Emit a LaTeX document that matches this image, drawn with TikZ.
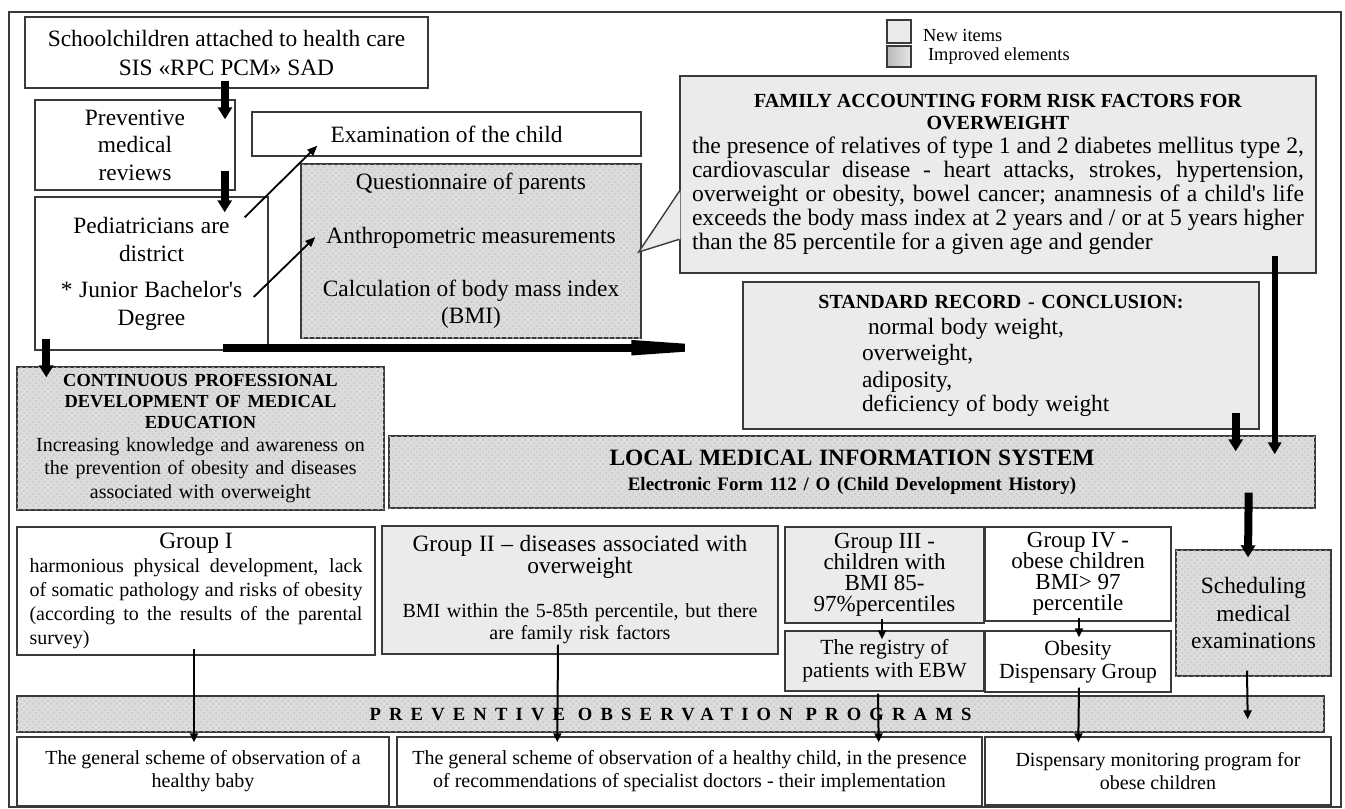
\documentclass[tikz,border=0pt]{standalone}
\usepackage{fontspec}
\setmainfont{Liberation Serif}
\usetikzlibrary{arrows.meta}
\usetikzlibrary{calc}
\usetikzlibrary{patterns}
\definecolor{boxline}{HTML}{3A3A3A}
\definecolor{newfill}{HTML}{EBEBEB}
\definecolor{impfill}{HTML}{DCDCDC}
\newcommand\fsz[2]{\fontsize{#1}{#2}\selectfont}
\tikzset{every node/.style={inner sep=0pt},
plainbox/.style={ % white boxes
draw=boxline, line width=0.7pt, fill=white},
newbox/.style={plainbox, fill=newfill}, % new items
impbox/.style={plainbox, fill=impfill, % improved elements
postaction={pattern=crosshatch dots, pattern color=gray!45}},
wh/.style 2 args={minimum width=#1*0.5pt, minimum height=#2*0.5pt},
fatarrow/.style={draw=black, line width=4pt, -{Triangle[length=6pt,width=7pt]}},
longarrow/.style={draw=black, line width=3pt, -{Triangle[length=6pt,width=6.5pt]}},
bigarrow/.style={draw=black, line width=4pt, -{Triangle[length=69.5pt,width=6.5pt]}},
thinarrow/.style={draw=black, line width=0.9pt, -{Triangle[length=5pt,width=4pt]}},
grouparrow/.style={draw=black, line width=1pt, -{Triangle[length=4.5pt,width=4pt]}}}

\begin{document}
\begin{tikzpicture}[x=0.5pt, y=-0.5pt]
\useasboundingbox (0,0) rectangle (1345,809);
\draw[boxline, line width=0.7pt] (9,12) rectangle (1341,807);

% legend
\node[newbox, wh={24}{23}] (lgnew) at (899,31.5) {};
\node[draw=boxline, line width=0.7pt, left color=gray!55, right color=gray!20, wh={24}{21}] (lgimp) at (899,56.5) {};
\node[anchor=west, font=\fsz{9.2}{11}] (lgnewtext) at ($(lgnew.east)+(11,3.5)$) {New items};
\node[anchor=west, font=\fsz{9.2}{11}] (lgimptext) at ($(lgimp.east)+(16,0)$) {Improved elements};

% upper part
\node[plainbox, wh={403}{71}, font=\fsz{11.7}{14.5}, align=center] (school) at (226.5,52.5) {Schoolchildren attached to health care\\SIS «RPC PCM» SAD};
\node[plainbox, wh={200}{90}, font=\fsz{11.7}{13.7}, align=center] (prev) at (135,145) {Preventive\\medical\\reviews};
\node[plainbox, wh={233}{153}, text width=110pt, align=center] (ped) at (151.5,273.5)
{\fsz{11.7}{14}Pediatricians are\\district\par\vspace{4pt}* Junior Bachelor\textquotesingle s\\Degree\par\vspace{9.5pt}};
\node[plainbox, wh={389}{44}, font=\fsz{11.7}{14}] (exam) at (446.5,134) {Examination of the child};
\node[impbox, wh={340}{174}, font=\fsz{11.7}{13.5}, align=center] (quest) at (471,251)
{Questionnaire of parents\\[13.2pt]Anthropometric measurements\\[13.2pt]Calculation of body mass index\\(BMI)};
\node[newbox, wh={636}{197}, text width=306pt, align=justify] (family) at (998,174.5)
{{\centering\bfseries\fsz{10}{11}FAMILY ACCOUNTING FORM RISK FACTORS FOR\\OVERWEIGHT\par}
\fsz{11.8}{13.3}the presence of relatives of type 1 and 2 diabetes mellitus type 2,\linebreak
cardiovascular disease - heart attacks, strokes, hypertension,\linebreak
overweight or obesity, bowel cancer; anamnesis of a child\textquotesingle s life\linebreak
exceeds the body mass index at 2 years and / or at 5 years higher\linebreak
than the 85 percentile for a given age and gender};
\coordinate (tip) at ($(quest.east)+(-3,1)$);
\fill[newfill] ($(family.north west)+(1,116)$) -- (tip) -- ($(family.north west)+(1,164)$) -- cycle;
\draw[boxline, line width=0.7pt] ($(family.north west)+(0,116)$) -- (tip) -- ($(family.north west)+(0,164)$);
\node[newbox, wh={516}{147}, text width=258pt, align=left] (std) at (1001,355.5)
{{\centering\bfseries\fsz{10}{11}STANDARD RECORD - CONCLUSION:\par}
\fsz{11.7}{13.2}\hspace*{62.5pt}normal body weight,\\\hspace*{59.5pt}overweight,\\\hspace*{59.5pt}adiposity,\\\hspace*{59.5pt}deficiency of body weight};
\node[impbox, wh={367}{143}, text width=180pt, align=center] (cpd) at (200.5,438.5)
{{\bfseries\fsz{9.2}{10.5}CONTINUOUS PROFESSIONAL\\DEVELOPMENT OF MEDICAL\\EDUCATION\par}
\fsz{10}{11.3}Increasing knowledge and awareness on\\the prevention of obesity and diseases\\associated with overweight};
\node[impbox, wh={926}{72}, text width=440pt, align=center] (lmis) at (852,472)
{{\bfseries\fsz{11.7}{14}LOCAL MEDICAL INFORMATION SYSTEM\par}
{\bfseries\fsz{9.5}{12.5}Electronic Form 112 / O (Child Development History)\par}};

% groups
\node[plainbox, wh={358}{128}, text width=166.5pt, align=justify] (g1) at (196,591)
{{\centering\fsz{11.7}{14}Group I\par}
\fsz{10}{11.7}harmonious physical development, lack\linebreak of somatic pathology and risks of obesity\linebreak (according to the results of the parental\linebreak survey)};
\node[newbox, wh={396}{128}, text width=190pt, align=center] (g2) at (580,590)
{{\fsz{11.7}{11}Group II – diseases associated with\\overweight\par}\vspace{11pt}
{\fsz{10}{11}BMI within the 5-85th percentile, but there\\are family risk factors\par}};
\node[newbox, wh={199}{96}, font=\fsz{11.5}{10.6}, align=center] (g3) at (884.5,575) {Group III -\\children with\\BMI 85-\\97\%percentiles};
\node[plainbox, wh={186}{94}, font=\fsz{11.5}{10.6}, align=center] (g4) at (1078,574) {Group IV -\\obese children\\BMI> 97\\percentile};
\node[newbox, wh={199}{60}, font=\fsz{10.8}{11.5}, align=center] (reg) at (884.5,661) {The registry of\\patients with EBW};
\node[plainbox, wh={186}{61}, font=\fsz{10.8}{11.5}, align=center] (obes) at (1078,661.5) {Obesity\\Dispensary Group};
\node[impbox, wh={155}{126}, text width=70pt, align=center] (sched) at (1253.5,613)
{\fsz{11.7}{13.7}Scheduling\\medical\\examinations\par\vspace{15.5pt}};

% programs
\node[impbox, wh={1307}{36}, font=\bfseries\fsz{9.3}{10}\addfontfeature{LetterSpace=44}] (band) at (670.5,714) {PREVENTIVE OBSERVATION PROGRAMS};
\node[plainbox, wh={372}{69}, font=\fsz{10}{11.5}, align=center] (b1) at (203,771.5) {The general scheme of observation of a\\healthy baby};
\node[plainbox, wh={585}{69}, font=\fsz{10}{11.5}, align=center] (b2) at (689.5,771.5) {The general scheme of observation of a healthy child, in the presence\\of recommendations of specialist doctors - their implementation};
\node[plainbox, wh={346}{68}, font=\fsz{10}{11.5}, align=center] (b3) at (1158,771) {Dispensary monitoring program for\\obese children};

% connectors
\draw[fatarrow] ($(school.south)+(-1.5,-8)$) -- ($(school.south |- prev.north)+(-1.5,20)$);
\draw[fatarrow] ($(prev.south east)+(-11,-20)$) -- ($(prev.south east |- ped.north)+(-11,16)$);
\draw[thinarrow] ($(ped.north east)+(-24,21)$) -- ($(exam.south west)+(66,-11)$);
\draw[thinarrow] ($(ped.east)+(-15,23.5)$) -- ($(quest.west)+(15,-14)$);
\draw[bigarrow] ($(ped.south east)+(-46,-3)$) -- ($(std.south west)+(28,-82)$);
\draw[fatarrow] ($(ped.south west)+(12,-12)$) -- ($(cpd.north west)+(30,11)$);
\draw[longarrow] ($(family.south east)+(-42,-18)$) -- ($(lmis.north east)+(-41,19)$);
\draw[fatarrow] ($(std.south east)+(-24,-17)$) -- ($(lmis.north east)+(-80,16)$);
\draw[fatarrow] ($(lmis.south east)+(-67,-16)$) -- ($(sched.north)+(-5.5,8)$);
\draw[grouparrow] ($(sched.south)+(-6.5,-6)$) -- ($(band.north east)+(-77,24)$);
\draw[grouparrow] ($(g1.south)+(-2,-7)$) -- ($(b1.north)+(-9,6)$);
\draw[grouparrow] ($(g2.south)+(-22,-10)$) -- ($(b2.north west)+(161,6)$);
\draw[grouparrow] ($(g3.south)+(-2.5,-5)$) -- ($(reg.north)+(-2.5,9)$);
\draw[grouparrow] ($(g4.south)+(1,-4)$) -- ($(obes.north)+(1,7)$);
\draw[grouparrow] ($(reg.south)+(-6.5,2)$) -- ($(b2.north east)+(-104,6)$);
\draw[grouparrow] ($(obes.south)+(1,-5)$) -- ($(b3.north west)+(94,6)$);
\end{tikzpicture}
\end{document}
